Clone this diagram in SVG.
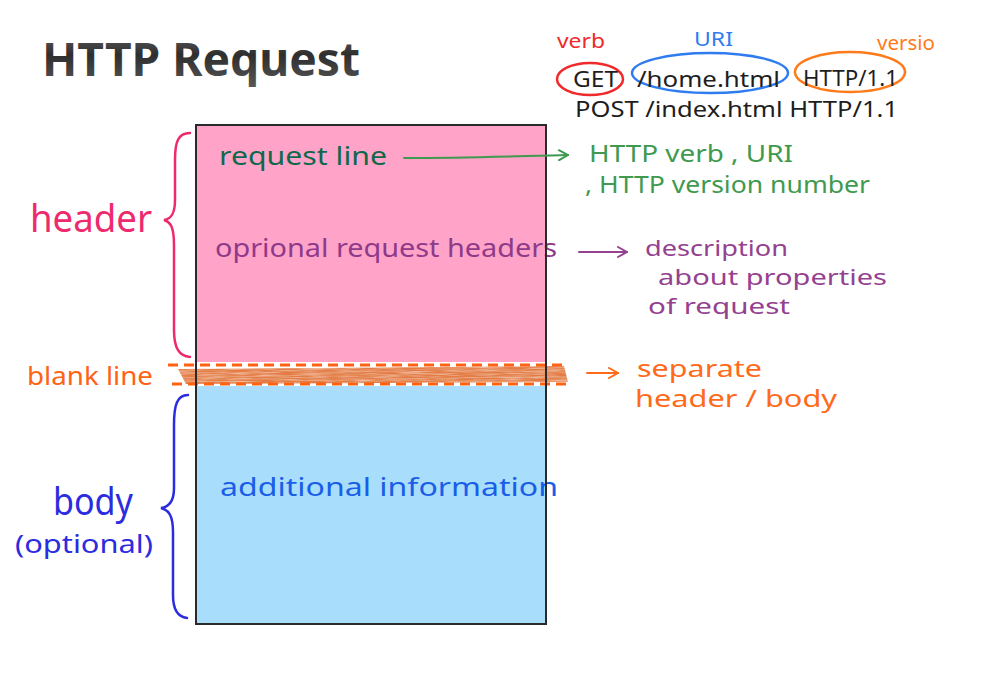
<svg xmlns="http://www.w3.org/2000/svg" width="993" height="675" viewBox="0 0 993 675">
<defs>
  <linearGradient id="titleGrad" x1="0" y1="0" x2="0" y2="1">
    <stop offset="0" stop-color="#6a6a6a"/>
    <stop offset="0.45" stop-color="#2e2e2e"/>
    <stop offset="1" stop-color="#5a5a5a"/>
  </linearGradient>
  <filter id="brush" x="0" y="0" width="1" height="1">
    <feTurbulence type="fractalNoise" baseFrequency="0.04 0.8" numOctaves="2" seed="3" result="n"/>
    <feColorMatrix in="n" type="matrix" values="0 0 0 0 0  0 0 0 0 0  0 0 0 0 0  0 0 0 -1.0 1.35" result="m"/>
    <feComposite in="SourceGraphic" in2="m" operator="in"/>
  </filter>
  <marker id="arrG" viewBox="0 0 12 12" refX="11" refY="6" markerWidth="12" markerHeight="12" markerUnits="userSpaceOnUse" orient="auto">
    <polyline points="2,1 11,6 2,11" fill="none" stroke="#3f9a4f" stroke-width="2" stroke-linecap="round"/>
  </marker>
  <marker id="arrP" viewBox="0 0 12 12" refX="11" refY="6" markerWidth="12" markerHeight="12" markerUnits="userSpaceOnUse" orient="auto">
    <polyline points="2,1 11,6 2,11" fill="none" stroke="#94418f" stroke-width="2" stroke-linecap="round"/>
  </marker>
  <marker id="arrO" viewBox="0 0 12 12" refX="11" refY="6" markerWidth="12" markerHeight="12" markerUnits="userSpaceOnUse" orient="auto">
    <polyline points="2,1 11,6 2,11" fill="none" stroke="#ff6a1a" stroke-width="2" stroke-linecap="round"/>
  </marker>
</defs>
<style>
  text { font-family: "Noto Sans", "DejaVu Sans", sans-serif; }
  .blk { fill: #1e1e1e; font-size: 22px; }
  .note { font-size: 24px; }
  .pnote { font-size: 22px; fill: #94418f; }
  .dash { fill: none; stroke: #ff6213; stroke-width: 3.2; stroke-dasharray: 10 6; }
  .brace { fill: none; stroke-width: 2.5; stroke-linecap: round; }
  .conn { fill: none; stroke-width: 2; stroke-linecap: round; }
</style>
<rect width="993" height="675" fill="#ffffff"/>

<g id="title">
  <text x="42" y="76" font-family="'Liberation Sans', sans-serif" font-weight="bold" font-size="46" fill="url(#titleGrad)" textLength="318" lengthAdjust="spacingAndGlyphs">HTTP Request</text>
</g>

<g id="example">
  <text x="557" y="48" fill="#f02a2a" font-size="19" textLength="48" lengthAdjust="spacingAndGlyphs">verb</text>
  <text x="694" y="46" fill="#2e7cf0" font-size="19" textLength="39" lengthAdjust="spacingAndGlyphs">URI</text>
  <text x="877" y="50" fill="#ff7a1a" font-size="19" textLength="58" lengthAdjust="spacingAndGlyphs">versio</text>
  <ellipse cx="590" cy="79" rx="33" ry="16" fill="none" stroke="#f02a2a" stroke-width="2.5"/>
  <ellipse cx="710" cy="73" rx="78" ry="20" fill="none" stroke="#2e7cf0" stroke-width="2.5"/>
  <ellipse cx="850" cy="72" rx="55" ry="20" fill="none" stroke="#ff7a1a" stroke-width="2.5"/>
  <text class="blk" x="573" y="87" textLength="45" lengthAdjust="spacingAndGlyphs">GET</text>
  <text class="blk" x="637" y="87" textLength="143" lengthAdjust="spacingAndGlyphs">/home.html</text>
  <text class="blk" x="803" y="86" textLength="95" lengthAdjust="spacingAndGlyphs">HTTP/1.1</text>
  <text class="blk" x="575" y="117" textLength="323" lengthAdjust="spacingAndGlyphs">POST /index.html HTTP/1.1</text>
</g>

<g id="header-section">
  <rect x="196" y="125" width="350" height="237" fill="#ffa3c9"/>
  <text x="219" y="165" fill="#10684a" font-size="25" textLength="168" lengthAdjust="spacingAndGlyphs">request line</text>
  <text x="215" y="257" fill="#8e3a8a" font-size="26" textLength="342" lengthAdjust="spacingAndGlyphs">oprional request headers</text>
</g>

<g id="blank-line">
  <polygon points="178,369 564,366 568,382 186,384" fill="#e37c45" filter="url(#brush)"/>
  <line class="dash" x1="168" y1="365" x2="564" y2="365"/>
  <line class="dash" x1="172" y1="384" x2="567" y2="384"/>
</g>

<g id="body-section">
  <rect x="196" y="386" width="350" height="238" fill="#a8defc"/>
  <text x="220" y="496" fill="#1a5ee8" font-size="26" textLength="338" lengthAdjust="spacingAndGlyphs">additional information</text>
</g>

<g id="frame">
  <rect x="196" y="125" width="350" height="499" fill="none" stroke="#2a2a2a" stroke-width="2"/>
</g>

<g id="labels-left">
  <text x="30" y="232" fill="#ee2a6e" font-size="38" textLength="122" lengthAdjust="spacingAndGlyphs">header</text>
  <text x="27" y="385" fill="#ff6213" font-size="25" textLength="126" lengthAdjust="spacingAndGlyphs">blank line</text>
  <text x="53" y="515" fill="#2b2be0" font-size="38" textLength="80" lengthAdjust="spacingAndGlyphs">body</text>
  <text x="15" y="553" fill="#2b2be0" font-size="25" textLength="138" lengthAdjust="spacingAndGlyphs">(optional)</text>
  <path class="brace" stroke="#ee2a6e" d="M190,133 C178,133 175,142 175,160 L175,200 C175,214 171,219 164,220 C171,222 174,228 174,245 L174,330 C174,348 179,356 190,357"/>
  <path class="brace" stroke="#2b2be0" d="M188,395 C177,395 174,405 174,425 L174,488 C174,502 169,507 161,508 C169,510 173,516 173,532 L173,595 C173,610 178,617 187,618"/>
</g>

<g id="notes-right">
  <text class="note" x="589" y="162" fill="#3f9a4f" textLength="204" lengthAdjust="spacingAndGlyphs">HTTP verb , URI</text>
  <text class="note" x="585" y="193" fill="#3f9a4f" textLength="285" lengthAdjust="spacingAndGlyphs">, HTTP version number</text>
  <text class="pnote" x="645" y="256" textLength="143" lengthAdjust="spacingAndGlyphs">description</text>
  <text class="pnote" x="658" y="285" textLength="229" lengthAdjust="spacingAndGlyphs">about properties</text>
  <text class="pnote" x="648" y="314" textLength="142" lengthAdjust="spacingAndGlyphs">of request</text>
  <text class="note" x="637" y="377" fill="#ff6a1a" textLength="125" lengthAdjust="spacingAndGlyphs">separate</text>
  <text class="note" x="635" y="407" fill="#ff6a1a" textLength="202" lengthAdjust="spacingAndGlyphs">header / body</text>
</g>

<g id="connectors">
  <path class="conn" stroke="#3f9a4f" d="M404,158 C470,158 520,156 568,155" marker-end="url(#arrG)"/>
  <path class="conn" stroke="#94418f" d="M579,252 L627,252" marker-end="url(#arrP)"/>
  <path class="conn" stroke="#ff6a1a" d="M587,373 L618,373" marker-end="url(#arrO)"/>
</g>
</svg>
